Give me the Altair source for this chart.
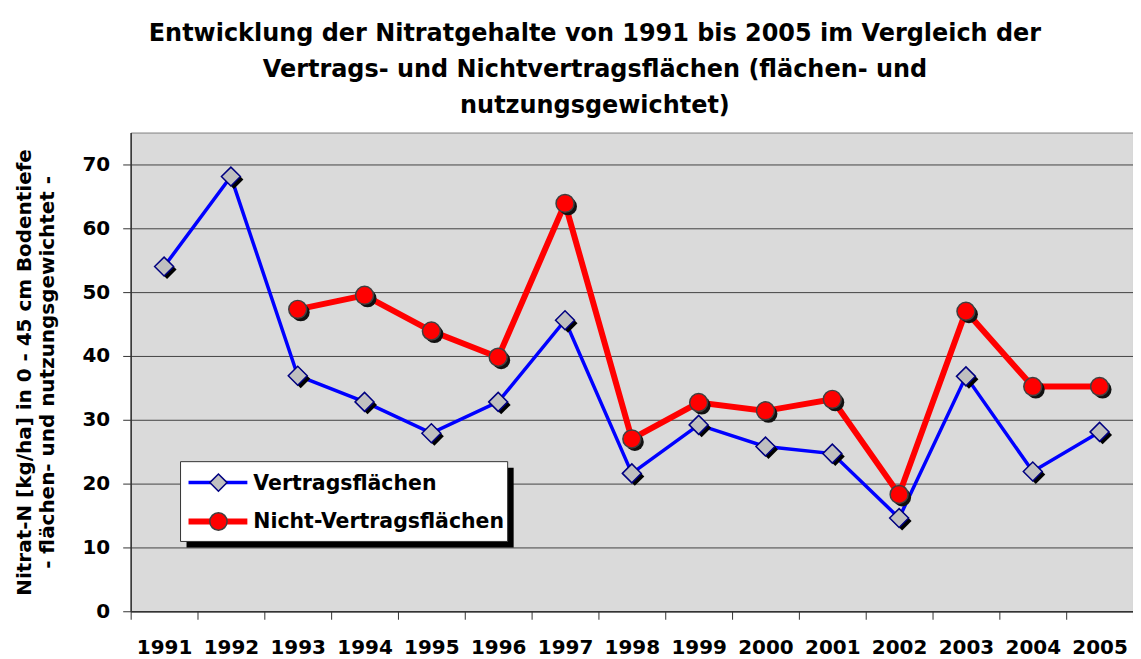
import altair as alt
import pandas as pd

years = [str(y) for y in range(1991, 2006)]
vertrag = [54.0, 68.1, 36.9, 32.8, 27.9, 32.8, 45.6, 21.6, 29.2, 25.8, 24.7, 14.6, 36.8, 21.9, 28.1]
nicht = [None, None, 47.3, 49.5, 43.9, 39.8, 63.9, 27.0, 32.7, 31.4, 33.2, 18.3, 47.0, 35.2, 35.2]
series = ["Vertragsflächen", "Nicht-Vertragsflächen"]
y_ticks = [0, 10, 20, 30, 40, 50, 60, 70]

title_lines = [
    "Entwicklung der Nitratgehalte von 1991 bis 2005 im Vergleich der",
    "Vertrags- und Nichtvertragsflächen (flächen- und",
    "nutzungsgewichtet)",
]
y_title = ["Nitrat-N [kg/ha] in 0 - 45 cm Bodentiefe", "- flächen- und nutzungsgewichtet -"]

df_v = pd.DataFrame({"year": years, "value": vertrag, "series": series[0]})
df_n = pd.DataFrame({"year": years, "value": nicht, "series": series[1]}).dropna()

FONT = "DejaVu Sans"

x_enc = alt.X(
    "year:O",
    sort=years,
    bandPosition=0.5,
    scale=alt.Scale(type="band", paddingInner=0, paddingOuter=0, domain=years),
    axis=alt.Axis(
        title=None,
        tickBand="extent",
        labelAngle=0,
        labelPadding=18,
        grid=False,
    ),
)
y_enc = alt.Y(
    "value:Q",
    scale=alt.Scale(domain=[0, 75], nice=False, zero=True),
    axis=alt.Axis(
        values=y_ticks,
        grid=True,
        gridColor="#424242",
        gridWidth=1,
        labelPadding=13,
        title=y_title,
        titleFont=FONT,
        titleFontSize=20,
        titleFontWeight="bold",
        titleX=-106,
        titleY=240,
        titleAngle=270,
        titleAlign="center",
        titleBaseline="middle",
        titleLineHeight=23,
    ),
)

base_v = alt.Chart(df_v).encode(x=x_enc, y=y_enc)
base_n = alt.Chart(df_n).encode(x=x_enc, y=y_enc)

line_v = base_v.mark_line(color="#0000ff", strokeWidth=3.5)
shadow_v = base_v.mark_point(shape="diamond", filled=True, color="black", size=361, xOffset=3, yOffset=3, opacity=1)
pts_v = base_v.mark_point(shape="diamond", filled=True, fill="#c0c0c0", stroke="#000080", strokeWidth=1.5, size=361, opacity=1)

line_n = base_n.mark_line(color="#ff0000", strokeWidth=6)
shadow_n = base_n.mark_point(shape="circle", filled=True, color="#111111", size=324, xOffset=3, yOffset=3, opacity=1)
pts_n = base_n.mark_point(shape="circle", filled=True, fill="#ff0000", stroke="#404040", strokeWidth=1.5, size=324, opacity=1)

one = pd.DataFrame({"k": [0]})
leg_shadow = alt.Chart(one).mark_rect(color="black").encode(
    x=alt.value(56), x2=alt.value(384), y=alt.value(336), y2=alt.value(416)
)
leg_box = alt.Chart(one).mark_rect(fill="white", stroke="#333333", strokeWidth=1).encode(
    x=alt.value(50), x2=alt.value(378), y=alt.value(330), y2=alt.value(410)
)
leg_line_v = alt.Chart(one).mark_rule(color="#0000ff", strokeWidth=3.5).encode(
    x=alt.value(58), x2=alt.value(117), y=alt.value(351)
)
leg_pt_v = alt.Chart(one).mark_point(shape="diamond", filled=True, fill="#c0c0c0", stroke="#000080", strokeWidth=1.5, size=300, opacity=1).encode(
    x=alt.value(88), y=alt.value(351)
)
leg_txt_v = alt.Chart(one).mark_text(align="left", baseline="middle", font=FONT, fontWeight="bold", fontSize=20.5, color="black").encode(
    x=alt.value(123), y=alt.value(352), text=alt.value(series[0])
)
leg_line_n = alt.Chart(one).mark_rule(color="#ff0000", strokeWidth=6).encode(
    x=alt.value(58), x2=alt.value(117), y=alt.value(390)
)
leg_pt_n = alt.Chart(one).mark_point(shape="circle", filled=True, fill="#ff0000", stroke="#404040", strokeWidth=1.5, size=300, opacity=1).encode(
    x=alt.value(88), y=alt.value(390)
)
leg_txt_n = alt.Chart(one).mark_text(align="left", baseline="middle", font=FONT, fontWeight="bold", fontSize=20.5, color="black").encode(
    x=alt.value(123), y=alt.value(391), text=alt.value(series[1])
)

chart = alt.layer(
    line_v, shadow_v, pts_v, line_n, shadow_n, pts_n,
    leg_shadow, leg_box, leg_line_v, leg_pt_v, leg_txt_v, leg_line_n, leg_pt_n, leg_txt_n,
).properties(
    width=1005,
    height=480,
    background="white",
    padding={"left": 123, "top": 124, "right": 0, "bottom": 51},
    autosize=alt.AutoSizeParams(type="none"),
    title=alt.TitleParams(
        text=title_lines,
        font=FONT,
        fontSize=24,
        fontWeight="bold",
        color="black",
        anchor="middle",
        frame="group",
        dx=-37,
        offset=15,
        lineHeight=36,
    ),
).configure_view(
    fill="#dadada", stroke="#808080", strokeWidth=1
).configure_axis(
    domainColor="#333333",
    domainWidth=1.5,
    tickColor="#333333",
    tickSize=8,
    tickWidth=1,
    labelFont=FONT,
    labelFontWeight="bold",
    labelFontSize=20,
    labelColor="black",
)

chart.save("out.html", embed_options={"renderer": "svg", "actions": False})
